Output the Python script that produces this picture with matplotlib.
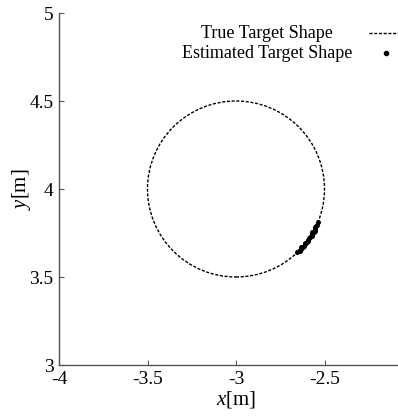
import matplotlib.pyplot as plt
import numpy as np
from matplotlib.lines import Line2D

plt.rcParams['font.family'] = ['Liberation Serif', 'DejaVu Serif']
plt.rcParams['mathtext.fontset'] = 'custom'
plt.rcParams['mathtext.it'] = 'Liberation Serif:italic'
plt.rcParams['mathtext.rm'] = 'Liberation Serif'

# True target: circle
center_x, center_y = -3.0, 4.0
radius = 0.5

# Estimated target points
est_x = [-2.653, -2.645, -2.637, -2.633, -2.632, -2.622, -2.613, -2.612,
         -2.610, -2.600, -2.591, -2.591, -2.590, -2.580, -2.572, -2.572,
         -2.571, -2.562, -2.554, -2.555, -2.555, -2.548, -2.541, -2.538]
est_y = [3.640, 3.645, 3.649, 3.660, 3.669, 3.671, 3.675, 3.686,
         3.695, 3.698, 3.703, 3.713, 3.723, 3.726, 3.732, 3.743,
         3.753, 3.757, 3.763, 3.773, 3.783, 3.789, 3.795, 3.813]

xticks = [-4, -3.5, -3, -2.5]
yticks = [3, 3.5, 4, 4.5, 5]
legend_labels = ['True Target Shape', 'Estimated Target Shape']

fig = plt.figure(figsize=(3.98, 4.16), dpi=100)
ax = fig.add_axes([59 / 398, 51 / 416, 354 / 398, 352 / 416])

dots = (0, (2.2, 1.2))
circ = plt.Circle((center_x, center_y), radius, fill=False, color='black',
                  lw=1.0, linestyle=dots)
ax.add_patch(circ)
ax.plot(est_x, est_y, 'o', color='black', markersize=3.6, markeredgewidth=0)

ax.set_xlim(-4, -2)
ax.set_ylim(3, 5)
ax.set_xticks(xticks)
ax.set_xticklabels(['-4', '-3.5', '-3', '-2.5'])
ax.set_yticks(yticks)
ax.set_yticklabels(['3', '3.5', '4', '4.5', '5'])
ax.tick_params(direction='in', length=3.5, width=0.8, color='#555555',
               labelsize=14, pad=4)
for s in ['top', 'right']:
    ax.spines[s].set_visible(False)
for s in ['left', 'bottom']:
    ax.spines[s].set_color('#555555')
    ax.spines[s].set_linewidth(1.0)

ax.set_xlabel('$x$[m]', fontsize=15, labelpad=1)
ax.set_ylabel('$y$[m]', fontsize=15, labelpad=-3)

# legend: centred labels, handles on the right
leg_y = [1 - 33 / 416, 1 - 53 / 416]
fig.text(267 / 398, leg_y[0], legend_labels[0], ha='center', va='center',
         fontsize=13)
fig.text(267 / 398, leg_y[1], legend_labels[1], ha='center', va='center',
         fontsize=13)
fig.add_artist(Line2D([369 / 398, 398 / 398], [leg_y[0], leg_y[0]],
                      color='black', lw=1.0, linestyle=dots,
                      transform=fig.transFigure))
fig.add_artist(Line2D([386 / 398], [leg_y[1]], color='black', marker='o',
                      markersize=3, lw=0, transform=fig.transFigure))

fig.savefig('out.png', dpi=100)
